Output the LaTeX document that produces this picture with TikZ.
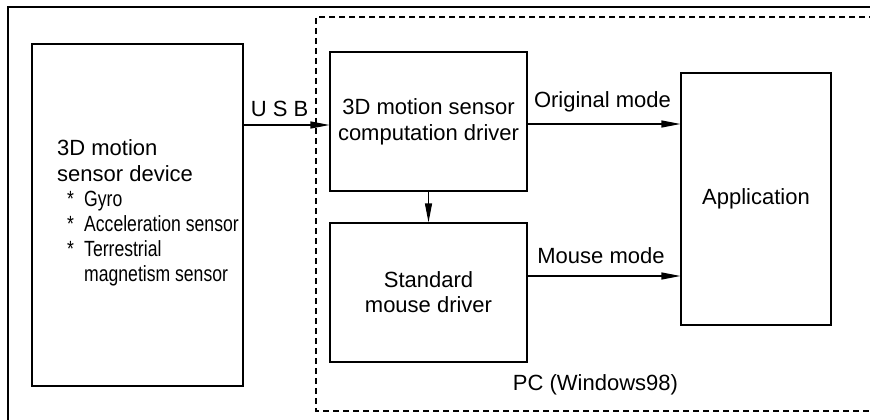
\documentclass[tikz,border=0pt]{standalone}
\usepackage{fontspec}
\setmainfont{Liberation Sans}
\newfontfamily\narrowfont[FakeStretch=0.8]{Liberation Sans}
\usetikzlibrary{arrows.meta}
\tikzset{
  box/.style={draw, line width=1.1pt, inner sep=0pt, align=center, font=\fontsize{22}{26}\selectfont},
  lbl/.style={anchor=base, inner sep=0pt, font=\fontsize{22}{26}\selectfont},
  arr/.style={line width=1.1pt, -{Triangle[length=19pt,width=7pt]}},
  frame/.style={line width=1.1pt},
  pcframe/.style={line width=1.1pt, dash pattern=on 6pt off 4pt},
}
\begin{document}
\begin{tikzpicture}[x=1pt,y=-1pt]
\useasboundingbox (0,0) rectangle (870,420);
% frames
\coordinate (f1) at (8,425);
\coordinate (f2) at (8,7);
\coordinate (f3) at (875,7);
\draw[frame] (f1) -- (f2) -- (f3);
\coordinate (p1) at (875,17);
\coordinate (p2) at (316,17);
\coordinate (p3) at (316,411);
\coordinate (p4) at (875,411);
\draw[pcframe] (p1) -- (p2) -- (p3) -- (p4);
% boxes
\node[box, minimum width=211pt, minimum height=342pt] (dev) at (137.5,215) {};
\node[anchor=west, inner sep=0pt, align=left, font=\fontsize{22}{25}\selectfont] (devtext) at (57,213)
  {3D motion\\[1pt]
   sensor device\\
   {\narrowfont\hspace*{10pt}\makebox[17pt][l]{*}Gyro}\\
   {\narrowfont\hspace*{10pt}\makebox[17pt][l]{*}Acceleration sensor}\\
   {\narrowfont\hspace*{10pt}\makebox[17pt][l]{*}Terrestrial}\\
   {\narrowfont\hspace*{27pt}magnetism sensor}};
\node[box, minimum width=197pt, minimum height=139pt] (comp) at (428.5,121.5)
  {3D motion sensor\\computation driver};
\node[box, minimum width=197pt, minimum height=139pt, font=\fontsize{22}{25}\selectfont] (mouse) at (428.5,292.5)
  {Standard\\mouse driver};
\node[box, minimum width=150pt, minimum height=252pt] (app) at (756,199) {Application};
% arrows
\coordinate (yu) at (0,125);
\coordinate (yo) at (0,124);
\coordinate (ym) at (0,276);
\draw[arr] (dev.east |- yu) -- (comp.west |- yu);
\draw[arr] (comp.east |- yo) -- (app.west |- yo);
\draw[arr] (mouse.east |- ym) -- (app.west |- ym);
\draw[arr] (comp.south) -- (mouse.north);
% labels
\node[lbl] (usb) at (279.5,116) {U S B};
\node[lbl] (orig) at (602.5,107) {Original mode};
\node[lbl] (mm) at (601,263) {Mouse mode};
\node[lbl] (pc) at (595.5,390) {PC (Windows98)};
\end{tikzpicture}
\end{document}
